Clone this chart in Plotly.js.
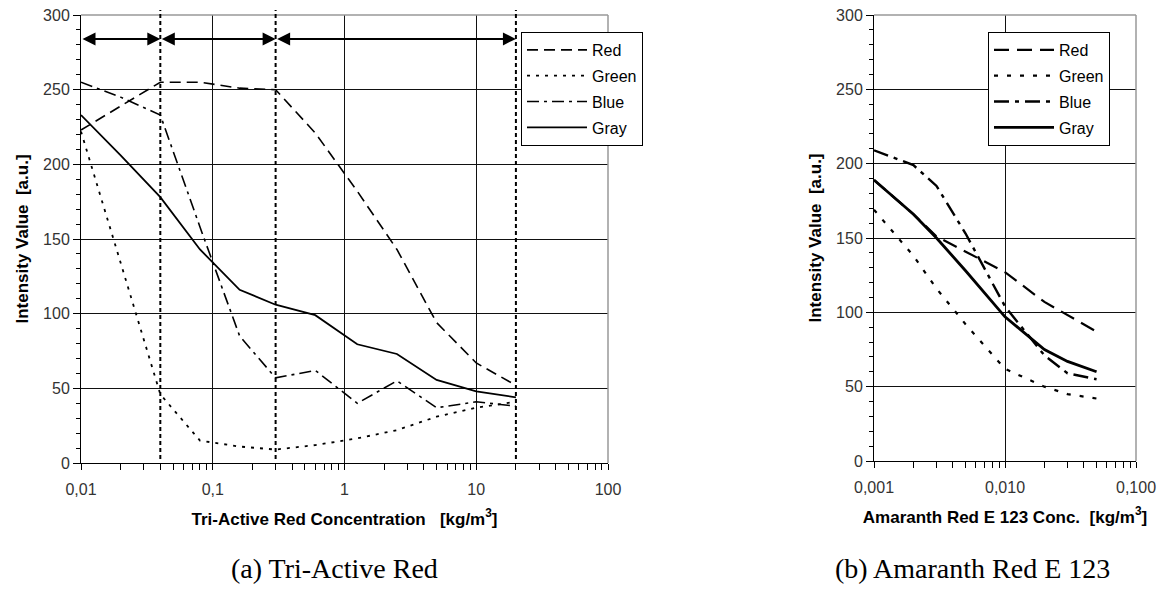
<!DOCTYPE html>
<html><head><meta charset="utf-8">
<script src="https://cdn.plot.ly/plotly-3.0.1.min.js"></script>
<style>html,body{margin:0;padding:0;background:#fff}#chart{width:1167px;height:599px}</style>
</head><body><div id="chart"></div>
<script>
// ---- data ----
const seriesNames = ['Red', 'Green', 'Blue', 'Gray'];

const triConc  = [0.01, 0.02, 0.04, 0.08, 0.16, 0.3, 0.6, 1.25, 2.5, 5, 10, 20];
const triRed   = [223, 239, 255, 255, 251, 250, 221, 182, 143, 94, 67, 52];
const triGreen = [222, 134, 46, 15, 11, 9, 12, 16.5, 22, 31, 37, 41];
const triBlue  = [255, 245, 233, 158, 85, 57, 62, 40, 55, 37, 41, 38];
const triGray  = [233, 206, 178, 143, 116, 106, 99, 79.5, 73, 55.6, 48, 44];

const amaConc  = [0.001, 0.002, 0.003, 0.005, 0.01, 0.02, 0.03, 0.05];
const amaRed   = [189, 166, 151, 141, 127, 107, 98, 87];
const amaGreen = [169, 138, 116, 92, 62, 50, 45, 42];
const amaBlue  = [209, 199, 185, 153, 104, 71, 59, 55];
const amaGray  = [189, 166, 150, 128, 97, 75, 67, 60];

const regionBounds = [0.01, 0.04, 0.3, 20];
const arrowLevel = 284;

const triTickVals = [0.01, 0.1, 1, 10, 100];
const triTickText = ['0,01', '0,1', '1', '10', '100'];
const amaTickVals = [0.001, 0.01, 0.1];
const amaTickText = ['0,001', '0,010', '0,100'];

// ---- styling ----
const W = 1167, H = 599;
const px = v => v / W;
const py = v => 1 - v / H;
const NB = '\u00a0';
const sans = 'Arial, "Liberation Sans", sans-serif';

const dashA = {Red: '11px,6px', Green: '3px,6px', Blue: '12px,5px,3px,5px', Gray: 'solid'};
const dashB = {Red: '15px,8px', Green: '4px,9px', Blue: '15px,6px,4px,6px', Gray: 'solid'};
const widthA = {Red: 1.6, Green: 1.8, Blue: 1.6, Gray: 1.8};
const widthB = {Red: 2.2, Green: 2.2, Blue: 2.4, Gray: 2.8};

const triData = {Red: triRed, Green: triGreen, Blue: triBlue, Gray: triGray};
const amaData = {Red: amaRed, Green: amaGreen, Blue: amaBlue, Gray: amaGray};

const traces = [];
seriesNames.forEach(n => traces.push({
  type: 'scatter', mode: 'lines', x: triConc, y: triData[n], name: n,
  xaxis: 'x', yaxis: 'y', legend: 'legend', legendgroup: 'a' + n,
  line: {color: '#000', width: widthA[n], dash: dashA[n]}
}));
seriesNames.forEach(n => traces.push({
  type: 'scatter', mode: 'lines', x: amaConc, y: amaData[n], name: n,
  xaxis: 'x2', yaxis: 'y2', legend: 'legend2', legendgroup: 'b' + n,
  line: {color: '#000', width: widthB[n], dash: dashB[n]}
}));

const tickFont = {family: sans, size: 16, color: '#333'};
const titleFont = {family: sans, size: 17, color: '#000', weight: 'bold'};

function yAxis(domainTop, domainBottom, anchor) {
  return {
    range: [0, 300], tick0: 0, dtick: 50, domain: [py(domainBottom), py(domainTop)], anchor: anchor,
    ticks: 'outside', ticklen: 7, tickcolor: '#000', tickwidth: 1,
    minor: {dtick: 10, ticks: 'outside', ticklen: 4, tickcolor: '#000', showgrid: false},
    showline: true, linecolor: '#000', linewidth: 1,
    showgrid: true, gridcolor: '#111', gridwidth: 1, zeroline: false,
    tickfont: tickFont,
    title: {text: 'Intensity Value' + NB + NB + '[a.u.]', font: titleFont, standoff: 10}
  };
}
function xAxis(range, d0, d1, anchor, tv, tt, title) {
  return {
    type: 'log', range: range, domain: [px(d0), px(d1)], anchor: anchor,
    tickmode: 'array', tickvals: tv, ticktext: tt,
    ticks: 'outside', ticklen: 6, tickcolor: '#000',
    minor: {ticks: 'outside', ticklen: 6, tickcolor: '#000', showgrid: false, dtick: 'D1'},
    showline: true, linecolor: '#000', linewidth: 1,
    showgrid: true, gridcolor: '#111', gridwidth: 1, zeroline: false,
    tickfont: tickFont, ticklabelstandoff: 6,
    title: {text: title, font: titleFont, standoff: 15}
  };
}

const shapes = [];
// gray top / right frame
[['x', 'y'], ['x2', 'y2']].forEach(([xr, yr]) => {
  shapes.push({type: 'line', xref: xr + ' domain', yref: yr + ' domain', x0: 0, x1: 1, y0: 1, y1: 1, line: {color: '#999', width: 1.5}});
  shapes.push({type: 'line', xref: xr + ' domain', yref: yr + ' domain', x0: 1, x1: 1, y0: 0, y1: 1, line: {color: '#999', width: 1.5}});
});
// region boundaries (dashed verticals)
regionBounds.slice(1).forEach(b => shapes.push({
  type: 'line', xref: 'x', yref: 'paper', x0: b, x1: b,
  y0: py(459), y1: py(10), line: {color: '#000', width: 2, dash: '4px,3px'}
}));

const annotations = [];
for (let i = 0; i < regionBounds.length - 1; i++) {
  annotations.push({
    xref: 'x', yref: 'y', axref: 'x', ayref: 'y',
    x: Math.log10(regionBounds[i + 1]), y: arrowLevel,
    ax: Math.log10(regionBounds[i]), ay: arrowLevel,
    text: '', showarrow: true, arrowhead: 2, arrowside: 'end+start',
    arrowsize: 1.3, arrowwidth: 2, arrowcolor: '#000', standoff: 0, startstandoff: 0
  });
}
const capFont = {family: '"Liberation Serif", "Times New Roman", serif', size: 28, color: '#000'};
annotations.push({xref: 'paper', yref: 'paper', x: px(334), y: py(568), xanchor: 'center', yanchor: 'middle',
  text: '(a) Tri-Active Red', showarrow: false, font: capFont});
annotations.push({xref: 'paper', yref: 'paper', x: px(973), y: py(568), xanchor: 'center', yanchor: 'middle',
  text: '(b) Amaranth Red E 123', showarrow: false, font: capFont});

const legendBase = {
  xanchor: 'left', yanchor: 'top', bgcolor: '#fff', bordercolor: '#000', borderwidth: 1,
  font: {family: sans, size: 16, color: '#000'}, tracegroupgap: 2, itemwidth: 60, traceorder: 'grouped'
};

const layout = {
  width: W, height: H, margin: {l: 0, r: 0, t: 0, b: 0},
  paper_bgcolor: '#fff', plot_bgcolor: '#fff', font: {family: sans},
  xaxis: xAxis([-2, 2], 81, 608, 'y', triTickVals, triTickText, 'Tri-Active Red Concentration' + NB + NB + NB + '[kg/m<sup>3</sup>]'),
  yaxis: yAxis(15, 463, 'x'),
  xaxis2: xAxis([-3, -1], 874, 1136, 'y2', amaTickVals, amaTickText, 'Amaranth Red E 123 Conc.' + NB + NB + '[kg/m<sup>3</sup>]'),
  yaxis2: yAxis(15, 461, 'x2'),
  legend: Object.assign({x: px(521), y: py(32), entrywidth: 60}, legendBase),
  legend2: Object.assign({x: px(988), y: py(32), entrywidth: 90}, legendBase),
  shapes: shapes, annotations: annotations, showlegend: true
};

Plotly.newPlot('chart', traces, layout, {staticPlot: true});
</script>
</body></html>
